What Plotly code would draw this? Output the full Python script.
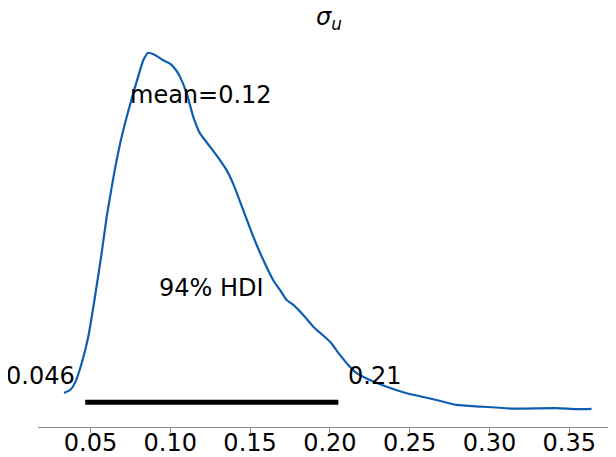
import plotly.graph_objects as go

# Posterior KDE of sigma_u
x_vals = [0.0334, 0.0372, 0.0403, 0.0445, 0.0486, 0.0528, 0.0570, 0.0602, 0.0643, 0.0685,
          0.0727, 0.0768, 0.0831, 0.0862, 0.0904, 0.0956, 0.0998, 0.1040, 0.1061, 0.1103,
          0.1144, 0.1186, 0.1249, 0.1311, 0.1353, 0.1395, 0.1457, 0.1520, 0.1583, 0.1645,
          0.1687, 0.1729, 0.1771, 0.1833, 0.1896, 0.2000, 0.2063, 0.2115, 0.2168, 0.2251,
          0.2356, 0.2481, 0.2627, 0.2711, 0.2795, 0.2940, 0.3149, 0.3421, 0.3546, 0.3640]
density = [0.51, 0.60, 0.82, 1.43, 2.24, 3.47, 4.82, 5.95, 7.13, 8.17,
           9.01, 9.73, 10.75, 10.98, 10.91, 10.75, 10.65, 10.42, 10.24, 9.73,
           9.01, 8.50, 8.09, 7.68, 7.37, 6.94, 6.14, 5.32, 4.60, 3.98,
           3.68, 3.37, 3.22, 2.91, 2.55, 2.09, 1.68, 1.37, 1.12, 0.91,
           0.70, 0.50, 0.34, 0.24, 0.14, 0.09, 0.03, 0.04, 0.01, 0.02]

hdi = [0.0467, 0.2053]
hdi_labels = ["0.046", "0.21"]
hdi_prob_label = "94% HDI"
mean_value = 0.1195
mean_label = "mean=0.12"
title_text = "<i>σ<sub>u</sub></i>"
tick_vals = [0.05, 0.10, 0.15, 0.20, 0.25, 0.30, 0.35]
tick_text = ["0.05", "0.10", "0.15", "0.20", "0.25", "0.30", "0.35"]

max_d = max(density)
min_d = min(density)
ylo = min_d - 0.05 * (max_d - min_d)
yhi = max_d + 0.05 * (max_d - min_d)

FONT = "DejaVu Sans"
FS = 24

# the page body has a default 8px margin; the figure is sized to fill the window after it
W, H = 608, 449

fig = go.Figure()
fig.add_trace(go.Scatter(x=x_vals, y=density, mode="lines",
                         line=dict(color="#0f5db0", width=2.2, shape="spline", smoothing=0.5),
                         hoverinfo="skip", showlegend=False))
fig.add_trace(go.Scatter(x=hdi, y=[max_d * 0.02, max_d * 0.02], mode="lines",
                         line=dict(color="black", width=5), hoverinfo="skip", showlegend=False))

ann_font = dict(family=FONT, size=FS, color="black")
fig.add_annotation(x=hdi[0], y=max_d * 0.07, text=hdi_labels[0], showarrow=False,
                   xanchor="right", yanchor="bottom", xshift=-8, yshift=-7, font=ann_font)
fig.add_annotation(x=hdi[1], y=max_d * 0.07, text=hdi_labels[1], showarrow=False,
                   xanchor="left", yanchor="bottom", xshift=8, yshift=-7, font=ann_font)
fig.add_annotation(x=(hdi[0] + hdi[1]) / 2, y=max_d * 0.3, text=hdi_prob_label, showarrow=False,
                   xanchor="center", yanchor="bottom", yshift=-1, font=ann_font)
fig.add_annotation(x=mean_value, y=yhi * 0.8, text=mean_label, showarrow=False,
                   xanchor="center", yanchor="bottom", yshift=-1, font=ann_font)

fig.update_layout(
    width=W, height=H,
    margin=dict(l=30, r=0, t=27, b=30, autoexpand=False),
    plot_bgcolor="white", paper_bgcolor="white",
    title=dict(text=title_text, x=321 / W, xanchor="center", y=1 - 9 / H, yanchor="middle",
               yref="container", font=dict(family=FONT, size=FS, color="black")),
    xaxis=dict(range=[0.0171, 0.3793], tickvals=tick_vals, ticktext=tick_text,
               automargin=False,
               showgrid=False, zeroline=False, showline=True, linecolor="#8c8c8c", linewidth=1,
               ticks="outside", ticklen=5, tickcolor="#8c8c8c", tickwidth=1,
               ticklabelstandoff=-11,
               tickfont=dict(family=FONT, size=24, color="black")),
    yaxis=dict(range=[ylo, yhi], visible=False, showgrid=False, zeroline=False),
)

fig.write_html("out.html")
